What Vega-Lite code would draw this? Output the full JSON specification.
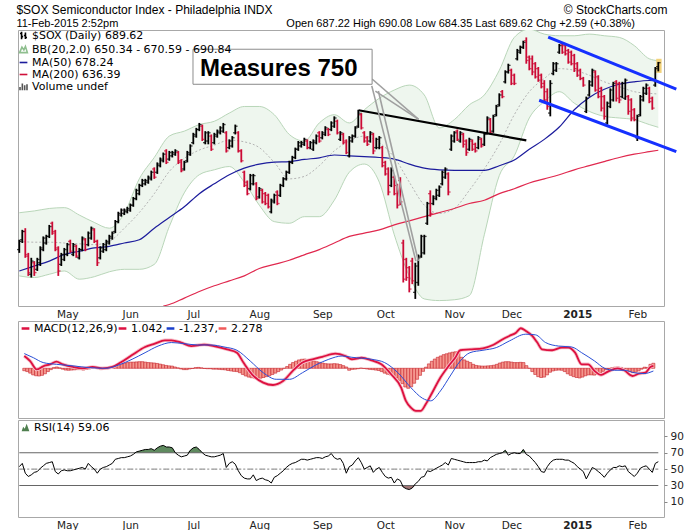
{
  "$schema": "https://vega.github.io/schema/vega-lite/v6.json",
  "background": "white",
  "padding": {"left": 16, "top": 3, "right": 0, "bottom": 0},
  "title": {
    "text": "$SOX Semiconductor Index - Philadelphia INDX\u2003\u2003\u2003\u2003\u2003\u2003\u2003\u2003\u2003\u2003\u2003\u2003\u2003\u2003\u2003\u2003\u2003\u2003\u2003\u2003\u2003\u2003\u2003\u2003\u00a0\u00a9 StockCharts.com",
    "subtitle": "11-Feb-2015 2:52pm\u2003\u2003\u2003\u2003\u2003\u2003\u2003\u2003\u2003\u2003\u2003\u2003\u2003\u2003\u2003\u00a0Open 687.22 High 690.08 Low 684.35 Last 689.62 Chg +2.59 (+0.38%)",
    "anchor": "start",
    "font": "Liberation Sans",
    "fontSize": 12,
    "fontWeight": "normal",
    "color": "#000000",
    "subtitleFont": "Liberation Sans",
    "subtitleFontSize": 11,
    "subtitleColor": "#000000",
    "subtitlePadding": 1,
    "offset": 0
  },
  "config": {
    "font": "DejaVu Sans",
    "view": {"stroke": "#a8a8a8", "strokeWidth": 1},
    "axis": {"labelFont": "DejaVu Sans", "labelFontSize": 10.5, "labelColor": "#222222", "tickColor": "#888888", "domain": false, "grid": false, "title": null},
    "legend": {"labelFont": "DejaVu Sans", "labelFontSize": 11, "labelLimit": 500}
  },
  "datasets": {
    "px": [
      {"i":0,"o":576,"h":582,"l":574,"c":581,"d":"up","m":-1.1,"r":53},
      {"i":1,"o":582,"h":588,"l":580,"c":587,"d":"up","m":-1.5,"r":57},
      {"i":2,"o":587,"h":589,"l":571,"c":573,"d":"dn","m":-2.2,"r":45},
      {"i":3,"o":572,"h":574,"l":560,"c":562,"d":"dn","m":-3.0,"r":41},
      {"i":4,"o":561,"h":571,"l":559,"c":569,"d":"up","m":-3.4,"r":43},
      {"i":5,"o":568,"h":569,"l":560,"c":562,"d":"dn","m":-3.5,"r":46},
      {"i":6,"o":564,"h":571,"l":563,"c":570,"d":"up","m":-3.2,"r":47},
      {"i":7,"o":568,"h":578,"l":566,"c":577,"d":"up","m":-2.5,"r":51},
      {"i":8,"o":576,"h":584,"l":575,"c":583,"d":"up","m":-1.5,"r":54},
      {"i":9,"o":580,"h":585,"l":579,"c":584,"d":"up","m":-0.6,"r":57},
      {"i":10,"o":584,"h":591,"l":583,"c":590,"d":"up","m":0.3,"r":58},
      {"i":11,"o":592,"h":593,"l":585,"c":586,"d":"dn","m":0.6,"r":59},
      {"i":12,"o":587,"h":588,"l":575,"c":576,"d":"dn","m":0.2,"r":47},
      {"i":13,"o":577,"h":578,"l":560,"c":563,"d":"dn","m":-0.4,"r":44},
      {"i":14,"o":567,"h":574,"l":566,"c":573,"d":"up","m":-0.8,"r":48},
      {"i":15,"o":570,"h":577,"l":569,"c":576,"d":"up","m":-0.9,"r":49},
      {"i":16,"o":573,"h":580,"l":572,"c":579,"d":"up","m":-0.8,"r":48},
      {"i":17,"o":581,"h":582,"l":574,"c":575,"d":"dn","m":-0.7,"r":48},
      {"i":18,"o":573,"h":580,"l":572,"c":579,"d":"up","m":-0.6,"r":49},
      {"i":19,"o":578,"h":579,"l":571,"c":572,"d":"dn","m":-0.6,"r":50},
      {"i":20,"o":571,"h":577,"l":570,"c":576,"d":"up","m":-0.8,"r":51},
      {"i":21,"o":576,"h":584,"l":575,"c":583,"d":"up","m":-0.5,"r":52},
      {"i":22,"o":582,"h":583,"l":575,"c":576,"d":"dn","m":-0.3,"r":50},
      {"i":23,"o":579,"h":587,"l":578,"c":586,"d":"up","m":0.1,"r":57},
      {"i":24,"o":583,"h":590,"l":582,"c":589,"d":"up","m":0.2,"r":53},
      {"i":25,"o":588,"h":589,"l":580,"c":581,"d":"dn","m":-0.2,"r":50},
      {"i":26,"o":581,"h":582,"l":566,"c":568,"d":"dn","m":-0.6,"r":45},
      {"i":27,"o":571,"h":578,"l":570,"c":577,"d":"up","m":-0.5,"r":50},
      {"i":28,"o":575,"h":580,"l":574,"c":579,"d":"up","m":-0.3,"r":52},
      {"i":29,"o":576,"h":582,"l":575,"c":581,"d":"up","m":0.0,"r":53},
      {"i":30,"o":580,"h":585,"l":579,"c":584,"d":"up","m":0.4,"r":55},
      {"i":31,"o":583,"h":587,"l":582,"c":586,"d":"up","m":0.9,"r":57},
      {"i":32,"o":587,"h":594,"l":586,"c":593,"d":"up","m":1.5,"r":62},
      {"i":33,"o":593,"h":599,"l":592,"c":598,"d":"up","m":2.0,"r":63},
      {"i":34,"o":597,"h":601,"l":596,"c":600,"d":"up","m":2.4,"r":64},
      {"i":35,"o":598,"h":601,"l":597,"c":600,"d":"up","m":2.6,"r":64},
      {"i":36,"o":599,"h":602,"l":598,"c":601,"d":"up","m":2.8,"r":65},
      {"i":37,"o":600,"h":604,"l":599,"c":603,"d":"up","m":2.8,"r":66},
      {"i":38,"o":603,"h":608,"l":602,"c":607,"d":"up","m":2.9,"r":68},
      {"i":39,"o":607,"h":613,"l":606,"c":612,"d":"up","m":3.0,"r":71},
      {"i":40,"o":610,"h":616,"l":609,"c":615,"d":"up","m":3.0,"r":72},
      {"i":41,"o":615,"h":619,"l":614,"c":618,"d":"up","m":2.8,"r":73},
      {"i":42,"o":616,"h":619,"l":615,"c":618,"d":"up","m":2.6,"r":74},
      {"i":43,"o":617,"h":621,"l":616,"c":620,"d":"up","m":2.5,"r":74},
      {"i":44,"o":619,"h":624,"l":618,"c":623,"d":"up","m":2.4,"r":75},
      {"i":45,"o":625,"h":626,"l":619,"c":620,"d":"dn","m":2.2,"r":73},
      {"i":46,"o":623,"h":629,"l":622,"c":628,"d":"up","m":1.9,"r":76},
      {"i":47,"o":627,"h":632,"l":626,"c":631,"d":"up","m":1.6,"r":78},
      {"i":48,"o":630,"h":635,"l":629,"c":634,"d":"up","m":1.3,"r":79},
      {"i":49,"o":636,"h":637,"l":628,"c":629,"d":"dn","m":1.1,"r":77},
      {"i":50,"o":631,"h":636,"l":630,"c":635,"d":"up","m":1.0,"r":77},
      {"i":51,"o":633,"h":636,"l":632,"c":635,"d":"up","m":0.6,"r":76},
      {"i":52,"o":634,"h":637,"l":633,"c":636,"d":"up","m":0.2,"r":70},
      {"i":53,"o":635,"h":636,"l":628,"c":629,"d":"dn","m":-0.3,"r":67},
      {"i":54,"o":630,"h":631,"l":623,"c":624,"d":"dn","m":-0.6,"r":65},
      {"i":55,"o":625,"h":630,"l":624,"c":629,"d":"up","m":-0.6,"r":66},
      {"i":56,"o":630,"h":636,"l":629,"c":635,"d":"up","m":-0.3,"r":67},
      {"i":57,"o":634,"h":640,"l":633,"c":639,"d":"up","m":-0.1,"r":73},
      {"i":58,"o":641,"h":647,"l":640,"c":646,"d":"up","m":0.3,"r":76},
      {"i":59,"o":645,"h":650,"l":644,"c":649,"d":"up","m":0.4,"r":77},
      {"i":60,"o":649,"h":653,"l":648,"c":652,"d":"up","m":0.2,"r":74},
      {"i":61,"o":651,"h":652,"l":642,"c":643,"d":"dn","m":-0.1,"r":70},
      {"i":62,"o":641,"h":648,"l":640,"c":647,"d":"up","m":-0.2,"r":67},
      {"i":63,"o":642,"h":648,"l":640,"c":647,"d":"up","m":-0.2,"r":66},
      {"i":64,"o":645,"h":646,"l":636,"c":637,"d":"dn","m":-0.4,"r":65},
      {"i":65,"o":641,"h":647,"l":640,"c":646,"d":"up","m":-0.4,"r":65},
      {"i":66,"o":645,"h":649,"l":644,"c":648,"d":"up","m":-0.5,"r":66},
      {"i":67,"o":647,"h":651,"l":646,"c":650,"d":"up","m":-0.6,"r":67},
      {"i":68,"o":648,"h":653,"l":647,"c":652,"d":"up","m":-0.7,"r":69},
      {"i":69,"o":647,"h":648,"l":635,"c":636,"d":"dn","m":-1.0,"r":52},
      {"i":70,"o":638,"h":643,"l":637,"c":642,"d":"up","m":-1.2,"r":57},
      {"i":71,"o":639,"h":645,"l":638,"c":644,"d":"up","m":-1.4,"r":59},
      {"i":72,"o":647,"h":652,"l":646,"c":651,"d":"up","m":-1.5,"r":56},
      {"i":73,"o":647,"h":648,"l":635,"c":636,"d":"dn","m":-2.0,"r":48},
      {"i":74,"o":636,"h":637,"l":629,"c":630,"d":"dn","m":-2.8,"r":42},
      {"i":75,"o":623,"h":624,"l":614,"c":615,"d":"dn","m":-3.5,"r":39},
      {"i":76,"o":617,"h":618,"l":609,"c":610,"d":"dn","m":-4.0,"r":38},
      {"i":77,"o":613,"h":622,"l":612,"c":621,"d":"up","m":-4.3,"r":38},
      {"i":78,"o":616,"h":622,"l":615,"c":621,"d":"up","m":-4.5,"r":43},
      {"i":79,"o":616,"h":617,"l":606,"c":607,"d":"dn","m":-4.6,"r":36},
      {"i":80,"o":608,"h":614,"l":607,"c":613,"d":"up","m":-4.5,"r":38},
      {"i":81,"o":612,"h":613,"l":604,"c":605,"d":"dn","m":-4.2,"r":39},
      {"i":82,"o":610,"h":611,"l":603,"c":604,"d":"dn","m":-3.8,"r":37},
      {"i":83,"o":609,"h":610,"l":601,"c":602,"d":"dn","m":-3.4,"r":36},
      {"i":84,"o":599,"h":607,"l":598,"c":606,"d":"up","m":-2.8,"r":33},
      {"i":85,"o":605,"h":610,"l":604,"c":609,"d":"up","m":-2.2,"r":40},
      {"i":86,"o":611,"h":612,"l":603,"c":604,"d":"dn","m":-1.5,"r":42},
      {"i":87,"o":609,"h":616,"l":608,"c":615,"d":"up","m":-0.8,"r":45},
      {"i":88,"o":615,"h":620,"l":614,"c":619,"d":"up","m":0.0,"r":48},
      {"i":89,"o":619,"h":624,"l":618,"c":623,"d":"up","m":0.8,"r":52},
      {"i":90,"o":623,"h":630,"l":622,"c":629,"d":"up","m":1.8,"r":55},
      {"i":91,"o":629,"h":633,"l":628,"c":632,"d":"up","m":2.6,"r":57},
      {"i":92,"o":632,"h":638,"l":631,"c":637,"d":"up","m":3.2,"r":58},
      {"i":93,"o":637,"h":642,"l":636,"c":641,"d":"up","m":3.8,"r":60},
      {"i":94,"o":639,"h":642,"l":638,"c":641,"d":"up","m":4.1,"r":62},
      {"i":95,"o":640,"h":644,"l":639,"c":643,"d":"up","m":4.2,"r":62},
      {"i":96,"o":642,"h":643,"l":637,"c":638,"d":"dn","m":4.0,"r":61},
      {"i":97,"o":638,"h":642,"l":637,"c":641,"d":"up","m":3.6,"r":62},
      {"i":98,"o":637,"h":643,"l":636,"c":642,"d":"up","m":3.3,"r":63},
      {"i":99,"o":641,"h":646,"l":640,"c":645,"d":"up","m":3.0,"r":64},
      {"i":100,"o":647,"h":648,"l":641,"c":642,"d":"dn","m":2.7,"r":64},
      {"i":101,"o":644,"h":648,"l":643,"c":647,"d":"up","m":2.4,"r":63},
      {"i":102,"o":646,"h":651,"l":645,"c":650,"d":"up","m":2.1,"r":65},
      {"i":103,"o":649,"h":650,"l":645,"c":646,"d":"dn","m":2.0,"r":66},
      {"i":104,"o":649,"h":654,"l":648,"c":653,"d":"up","m":2.0,"r":69},
      {"i":105,"o":651,"h":657,"l":650,"c":656,"d":"up","m":2.1,"r":64},
      {"i":106,"o":654,"h":655,"l":646,"c":647,"d":"dn","m":2.0,"r":62},
      {"i":107,"o":643,"h":648,"l":642,"c":647,"d":"up","m":1.7,"r":63},
      {"i":108,"o":646,"h":647,"l":640,"c":641,"d":"dn","m":1.2,"r":57},
      {"i":109,"o":642,"h":643,"l":634,"c":635,"d":"dn","m":0.6,"r":45},
      {"i":110,"o":633,"h":645,"l":632,"c":644,"d":"up","m":-0.9,"r":53},
      {"i":111,"o":642,"h":646,"l":641,"c":645,"d":"up","m":-0.5,"r":55},
      {"i":112,"o":645,"h":651,"l":644,"c":650,"d":"up","m":-0.4,"r":60},
      {"i":113,"o":651,"h":661,"l":650,"c":659,"d":"up","m":-0.2,"r":64},
      {"i":114,"o":658,"h":659,"l":649,"c":650,"d":"dn","m":0.1,"r":58},
      {"i":115,"o":647,"h":648,"l":641,"c":642,"d":"dn","m":-0.1,"r":50},
      {"i":116,"o":644,"h":645,"l":639,"c":640,"d":"dn","m":-0.3,"r":52},
      {"i":117,"o":642,"h":648,"l":641,"c":647,"d":"up","m":-0.5,"r":54},
      {"i":118,"o":646,"h":647,"l":634,"c":636,"d":"dn","m":-0.6,"r":46},
      {"i":119,"o":638,"h":644,"l":637,"c":643,"d":"up","m":-0.8,"r":50},
      {"i":120,"o":638,"h":645,"l":637,"c":644,"d":"up","m":-1.0,"r":52},
      {"i":121,"o":638,"h":639,"l":626,"c":627,"d":"dn","m":-1.5,"r":46},
      {"i":122,"o":629,"h":630,"l":621,"c":622,"d":"dn","m":-2.2,"r":41},
      {"i":123,"o":625,"h":626,"l":609,"c":611,"d":"dn","m":-2.7,"r":39},
      {"i":124,"o":615,"h":626,"l":614,"c":624,"d":"up","m":-3.0,"r":40},
      {"i":125,"o":620,"h":621,"l":609,"c":610,"d":"dn","m":-3.5,"r":33},
      {"i":126,"o":615,"h":616,"l":601,"c":603,"d":"dn","m":-4.2,"r":38},
      {"i":127,"o":618,"h":620,"l":603,"c":605,"d":"dn","m":-5.5,"r":36},
      {"i":128,"o":580,"h":582,"l":556,"c":558,"d":"dn","m":-7.0,"r":28},
      {"i":129,"o":570,"h":571,"l":557,"c":559,"d":"dn","m":-8.5,"r":26},
      {"i":130,"o":565,"h":566,"l":550,"c":552,"d":"dn","m":-9.1,"r":25},
      {"i":131,"o":569,"h":571,"l":555,"c":557,"d":"dn","m":-8.4,"r":27},
      {"i":132,"o":550,"h":568,"l":546,"c":566,"d":"up","m":-6.8,"r":32},
      {"i":133,"o":556,"h":573,"l":554,"c":571,"d":"up","m":-5.0,"r":35},
      {"i":134,"o":572,"h":585,"l":571,"c":584,"d":"up","m":-3.2,"r":40},
      {"i":135,"o":574,"h":585,"l":573,"c":584,"d":"up","m":-1.4,"r":41},
      {"i":136,"o":592,"h":605,"l":591,"c":604,"d":"up","m":0.5,"r":48},
      {"i":137,"o":610,"h":612,"l":596,"c":598,"d":"dn","m":2.0,"r":47},
      {"i":138,"o":604,"h":609,"l":603,"c":608,"d":"up","m":3.2,"r":49},
      {"i":139,"o":607,"h":613,"l":606,"c":612,"d":"up","m":4.2,"r":51},
      {"i":140,"o":609,"h":615,"l":608,"c":614,"d":"up","m":5.0,"r":53},
      {"i":141,"o":616,"h":624,"l":615,"c":623,"d":"up","m":5.6,"r":55},
      {"i":142,"o":620,"h":626,"l":619,"c":625,"d":"up","m":6.2,"r":58},
      {"i":143,"o":622,"h":623,"l":609,"c":611,"d":"dn","m":6.6,"r":55},
      {"i":144,"o":637,"h":646,"l":636,"c":645,"d":"up","m":7.0,"r":63},
      {"i":145,"o":642,"h":648,"l":641,"c":647,"d":"up","m":7.3,"r":62},
      {"i":146,"o":648,"h":649,"l":642,"c":643,"d":"dn","m":7.5,"r":61},
      {"i":147,"o":642,"h":648,"l":641,"c":647,"d":"up","m":7.6,"r":60},
      {"i":148,"o":646,"h":647,"l":638,"c":640,"d":"dn","m":5.0,"r":59},
      {"i":149,"o":642,"h":643,"l":633,"c":635,"d":"dn","m":3.8,"r":58},
      {"i":150,"o":637,"h":644,"l":636,"c":643,"d":"up","m":3.2,"r":58},
      {"i":151,"o":642,"h":643,"l":636,"c":637,"d":"dn","m":2.6,"r":58},
      {"i":152,"o":640,"h":641,"l":635,"c":636,"d":"dn","m":1.8,"r":58},
      {"i":153,"o":638,"h":645,"l":637,"c":644,"d":"up","m":1.3,"r":59},
      {"i":154,"o":643,"h":644,"l":638,"c":639,"d":"dn","m":1.1,"r":59},
      {"i":155,"o":640,"h":647,"l":639,"c":646,"d":"up","m":1.0,"r":61},
      {"i":156,"o":647,"h":657,"l":646,"c":656,"d":"up","m":1.0,"r":60},
      {"i":157,"o":655,"h":656,"l":646,"c":647,"d":"dn","m":1.1,"r":64},
      {"i":158,"o":648,"h":658,"l":647,"c":657,"d":"up","m":1.2,"r":66},
      {"i":159,"o":658,"h":664,"l":657,"c":663,"d":"up","m":1.4,"r":68},
      {"i":160,"o":664,"h":671,"l":663,"c":670,"d":"up","m":1.8,"r":69},
      {"i":161,"o":672,"h":673,"l":668,"c":669,"d":"dn","m":2.4,"r":70},
      {"i":162,"o":678,"h":685,"l":677,"c":684,"d":"up","m":2.8,"r":73},
      {"i":163,"o":684,"h":689,"l":683,"c":688,"d":"up","m":3.0,"r":67},
      {"i":164,"o":685,"h":686,"l":676,"c":677,"d":"dn","m":3.0,"r":69},
      {"i":165,"o":682,"h":683,"l":676,"c":677,"d":"dn","m":2.8,"r":70},
      {"i":166,"o":692,"h":698,"l":691,"c":697,"d":"up","m":2.6,"r":69},
      {"i":167,"o":696,"h":700,"l":695,"c":699,"d":"up","m":2.6,"r":69},
      {"i":168,"o":699,"h":703,"l":698,"c":702,"d":"up","m":2.7,"r":74},
      {"i":169,"o":703,"h":705,"l":689,"c":691,"d":"dn","m":2.6,"r":68},
      {"i":170,"o":693,"h":694,"l":685,"c":686,"d":"dn","m":1.2,"r":66},
      {"i":171,"o":692,"h":694,"l":682,"c":684,"d":"dn","m":0.0,"r":62},
      {"i":172,"o":689,"h":690,"l":680,"c":681,"d":"dn","m":-1.5,"r":58},
      {"i":173,"o":686,"h":687,"l":678,"c":679,"d":"dn","m":-2.8,"r":53},
      {"i":174,"o":682,"h":683,"l":674,"c":675,"d":"dn","m":-3.8,"r":47},
      {"i":175,"o":677,"h":679,"l":665,"c":667,"d":"dn","m":-4.2,"r":46},
      {"i":176,"o":672,"h":674,"l":661,"c":663,"d":"dn","m":-4.0,"r":53},
      {"i":177,"o":659,"h":679,"l":657,"c":677,"d":"up","m":-3.0,"r":58},
      {"i":178,"o":683,"h":690,"l":682,"c":689,"d":"up","m":-1.8,"r":61},
      {"i":179,"o":685,"h":690,"l":684,"c":689,"d":"up","m":-1.2,"r":62},
      {"i":180,"o":696,"h":701,"l":695,"c":700,"d":"up","m":-0.9,"r":62},
      {"i":181,"o":701,"h":702,"l":695,"c":696,"d":"dn","m":-0.8,"r":62},
      {"i":182,"o":700,"h":701,"l":694,"c":695,"d":"dn","m":-0.9,"r":61},
      {"i":183,"o":697,"h":698,"l":689,"c":690,"d":"dn","m":-1.5,"r":61},
      {"i":184,"o":696,"h":697,"l":688,"c":689,"d":"dn","m":-2.5,"r":59},
      {"i":185,"o":694,"h":695,"l":684,"c":686,"d":"dn","m":-3.2,"r":57},
      {"i":186,"o":689,"h":690,"l":681,"c":682,"d":"dn","m":-3.8,"r":53},
      {"i":187,"o":685,"h":686,"l":679,"c":680,"d":"dn","m":-4.2,"r":50},
      {"i":188,"o":680,"h":681,"l":675,"c":676,"d":"dn","m":-4.4,"r":47},
      {"i":189,"o":660,"h":669,"l":659,"c":668,"d":"up","m":-4.0,"r":38},
      {"i":190,"o":670,"h":679,"l":669,"c":678,"d":"up","m":-3.4,"r":45},
      {"i":191,"o":676,"h":686,"l":675,"c":685,"d":"up","m":-3.0,"r":52},
      {"i":192,"o":684,"h":685,"l":672,"c":673,"d":"dn","m":-3.0,"r":50},
      {"i":193,"o":681,"h":682,"l":668,"c":669,"d":"dn","m":-3.1,"r":47},
      {"i":194,"o":674,"h":675,"l":660,"c":662,"d":"dn","m":-2.8,"r":44},
      {"i":195,"o":669,"h":670,"l":655,"c":657,"d":"dn","m":-2.2,"r":40},
      {"i":196,"o":653,"h":666,"l":652,"c":665,"d":"up","m":-1.4,"r":45},
      {"i":197,"o":663,"h":674,"l":662,"c":673,"d":"up","m":-0.6,"r":49},
      {"i":198,"o":667,"h":678,"l":666,"c":677,"d":"up","m":-0.1,"r":52},
      {"i":199,"o":678,"h":679,"l":666,"c":668,"d":"dn","m":0.2,"r":52},
      {"i":200,"o":677,"h":678,"l":665,"c":667,"d":"dn","m":0.5,"r":54},
      {"i":201,"o":669,"h":678,"l":668,"c":677,"d":"up","m":0.6,"r":53},
      {"i":202,"o":668,"h":680,"l":667,"c":679,"d":"up","m":0.4,"r":54},
      {"i":203,"o":669,"h":670,"l":658,"c":660,"d":"dn","m":-0.3,"r":47},
      {"i":204,"o":667,"h":668,"l":654,"c":656,"d":"dn","m":-1.0,"r":44},
      {"i":205,"o":661,"h":662,"l":654,"c":655,"d":"dn","m":-1.5,"r":41},
      {"i":206,"o":644,"h":658,"l":642,"c":657,"d":"up","m":-2.0,"r":45},
      {"i":207,"o":658,"h":670,"l":657,"c":669,"d":"up","m":-1.8,"r":51},
      {"i":208,"o":667,"h":675,"l":666,"c":674,"d":"up","m":-1.2,"r":53},
      {"i":209,"o":671,"h":677,"l":670,"c":676,"d":"up","m":-0.4,"r":54},
      {"i":210,"o":674,"h":675,"l":665,"c":666,"d":"dn","m":0.5,"r":50},
      {"i":211,"o":668,"h":669,"l":661,"c":662,"d":"dn","m":0.4,"r":46},
      {"i":212,"o":676,"h":687,"l":675,"c":686,"d":"up","m":1.8,"r":57},
      {"i":213,"o":687.22,"h":690.08,"l":684.35,"c":689.62,"d":"up","m":2.278,"r":59.06}
    ],
    "ind": [
      {"i":0,"bu":598.4,"bl":560,"bm":581,"m50":563},
      {"i":5,"bu":599.5,"bl":559,"bm":580.5,"m50":566},
      {"i":10,"bu":601,"bl":561,"bm":580.5,"m50":569},
      {"i":15,"bu":601.5,"bl":563,"bm":580,"m50":573},
      {"i":20,"bu":597,"bl":558,"bm":579.5,"m50":575},
      {"i":25,"bu":592.5,"bl":559.5,"bm":579,"m50":577},
      {"i":30,"bu":589,"bl":562.5,"bm":581,"m50":578},
      {"i":35,"bu":598,"bl":564,"bm":589,"m50":580},
      {"i":40,"bu":619,"bl":564,"bm":598.5,"m50":582},
      {"i":45,"bu":632,"bl":567,"bm":610,"m50":589},
      {"i":50,"bu":645,"bl":590,"bm":623.5,"m50":595.5},
      {"i":55,"bu":648,"bl":610.5,"bm":631.5,"m50":602},
      {"i":60,"bu":652,"bl":621.5,"bm":636.5,"m50":610},
      {"i":65,"bu":654,"bl":624.5,"bm":639.5,"m50":616},
      {"i":70,"bu":659,"bl":626.5,"bm":642.5,"m50":621.5},
      {"i":75,"bu":663,"bl":617,"bm":641.5,"m50":625.5},
      {"i":80,"bu":663,"bl":603,"bm":638,"m50":628},
      {"i":85,"bu":658,"bl":593,"bm":629,"m50":629.2},
      {"i":90,"bu":646,"bl":592,"bm":619,"m50":629.5},
      {"i":95,"bu":642,"bl":596,"bm":620.5,"m50":630.8},
      {"i":100,"bu":653,"bl":596,"bm":627,"m50":631.8},
      {"i":105,"bu":658,"bl":606,"bm":636,"m50":633.5},
      {"i":110,"bu":653,"bl":623,"bm":642,"m50":633},
      {"i":115,"bu":661,"bl":628,"bm":645,"m50":632.5},
      {"i":120,"bu":668,"bl":617,"bm":641,"m50":632},
      {"i":125,"bu":673,"bl":585,"bm":632,"m50":631},
      {"i":130,"bu":676,"bl":560,"bm":617,"m50":628},
      {"i":135,"bu":670,"bl":546,"bm":603,"m50":625.5},
      {"i":140,"bu":650,"bl":545,"bm":598,"m50":624.5},
      {"i":145,"bu":655,"bl":545.5,"bm":601,"m50":624.2},
      {"i":150,"bu":664,"bl":548,"bm":612,"m50":624.2},
      {"i":155,"bu":670,"bl":585,"bm":625,"m50":624.2},
      {"i":160,"bu":685,"bl":621,"bm":640,"m50":627},
      {"i":165,"bu":705,"bl":633,"bm":658,"m50":630.5},
      {"i":170,"bu":710,"bl":656,"bm":672,"m50":637},
      {"i":175,"bu":707,"bl":666,"bm":680,"m50":643},
      {"i":180,"bu":706,"bl":672,"bm":686,"m50":650.5},
      {"i":185,"bu":706,"bl":665,"bm":685,"m50":661},
      {"i":190,"bu":707,"bl":660,"bm":682,"m50":668.5},
      {"i":195,"bu":706,"bl":657,"bm":678,"m50":673.5},
      {"i":200,"bu":705,"bl":656,"bm":675,"m50":676.5},
      {"i":205,"bu":700,"bl":655,"bm":672,"m50":678},
      {"i":210,"bu":692,"bl":652,"bm":671,"m50":678.8},
      {"i":213,"bu":690.84,"bl":650.34,"bm":670.59,"m50":678.24}
    ],
    "ma200": [
      {"i":48,"v":541.7},{"i":50,"v":542.6},{"i":55,"v":546.5},{"i":60,"v":550.5},{"i":65,"v":554},
      {"i":70,"v":557},{"i":75,"v":560},{"i":80,"v":564.5},{"i":85,"v":567},{"i":90,"v":569.5},
      {"i":95,"v":572.8},{"i":100,"v":576},{"i":105,"v":580},{"i":110,"v":584},{"i":115,"v":586},
      {"i":120,"v":588},{"i":125,"v":591},{"i":130,"v":593.5},{"i":135,"v":596},{"i":140,"v":598.5},
      {"i":145,"v":601},{"i":150,"v":604},{"i":155,"v":606},{"i":160,"v":610},{"i":165,"v":613},
      {"i":170,"v":616.5},{"i":175,"v":619},{"i":180,"v":621.5},{"i":185,"v":624.5},{"i":190,"v":627},
      {"i":195,"v":629.5},{"i":200,"v":632},{"i":205,"v":634},{"i":210,"v":635.5},{"i":213,"v":636.39}
    ],
    "ml": [
      {"i":0,"v":5.6},{"i":2,"v":3.3},{"i":4.2,"v":-0.5},{"i":6.4,"v":0.9},{"i":8.7,"v":1.8},{"i":10.9,"v":3.0},
      {"i":13.1,"v":1.8},{"i":16.5,"v":0.6},{"i":19.8,"v":0},{"i":23.1,"v":0.6},{"i":26.5,"v":0},{"i":29.8,"v":0.6},
      {"i":32.6,"v":2.6},{"i":36.5,"v":6.0},{"i":40.9,"v":9.7},{"i":44.2,"v":11.2},{"i":47.6,"v":12.7},{"i":49.8,"v":12.7},
      {"i":53.1,"v":11.7},{"i":56.5,"v":10.1},{"i":60.9,"v":10.8},{"i":64.2,"v":10.1},{"i":68.7,"v":8.6},{"i":72,"v":7.1},
      {"i":74.2,"v":2.6},{"i":77.6,"v":-3.5},{"i":80.9,"v":-6.5},{"i":84.2,"v":-7.6},{"i":87.6,"v":-5.8},{"i":90.9,"v":-1.2},
      {"i":94.2,"v":2.6},{"i":97.6,"v":4.1},{"i":100.9,"v":5.2},{"i":105.3,"v":6.7},{"i":108.7,"v":5.6},{"i":110.9,"v":4.1},
      {"i":114.2,"v":4.8},{"i":117.6,"v":3.6},{"i":120.9,"v":1.8},{"i":124.2,"v":-2.7},{"i":127.6,"v":-8.8},{"i":129.2,"v":-14.8},
      {"i":130.9,"v":-17.9},{"i":132.6,"v":-19.4},{"i":134.2,"v":-19.4},{"i":135.9,"v":-16.4},{"i":138.1,"v":-11.1},{"i":140.9,"v":-4.2},
      {"i":143.7,"v":1.1},{"i":145.9,"v":4.8},{"i":147.6,"v":8.2},{"i":150.9,"v":8.6},{"i":155.3,"v":9.1},{"i":158.7,"v":10.6},
      {"i":162,"v":13.2},{"i":164.2,"v":14.7},{"i":166.5,"v":16.2},{"i":168.1,"v":18.2},{"i":169.8,"v":17.0},{"i":172,"v":14.7},
      {"i":173.7,"v":11.7},{"i":175.3,"v":8.6},{"i":178.7,"v":8.2},{"i":182,"v":9.4},{"i":184.2,"v":9.4},{"i":186.5,"v":7.1},
      {"i":188.7,"v":1.8},{"i":190.9,"v":1.8},{"i":193.1,"v":-1.2},{"i":195.3,"v":-3.0},{"i":197.6,"v":-1.5},{"i":200.9,"v":0},
      {"i":203.1,"v":-0.9},{"i":205.9,"v":-3.5},{"i":208.1,"v":-2.4},{"i":210.3,"v":-2.0},{"i":212,"v":0.6},{"i":213,"v":1.042}
    ],
    "sl": [
      {"i":0,"v":6.7},{"i":3.1,"v":4.8},{"i":6.4,"v":2.6},{"i":10.9,"v":1.8},{"i":16.5,"v":1.1},{"i":22,"v":0.3},
      {"i":27.6,"v":0},{"i":32,"v":1.5},{"i":36.5,"v":4.1},{"i":40.9,"v":7.1},{"i":45.3,"v":10.1},{"i":49.8,"v":11.7},
      {"i":54.2,"v":11.2},{"i":58.7,"v":10.6},{"i":63.1,"v":10.6},{"i":67.6,"v":9.7},{"i":72,"v":8.2},{"i":76.5,"v":3.3},
      {"i":80.9,"v":-2.0},{"i":85.3,"v":-5.0},{"i":89.8,"v":-5.0},{"i":94.2,"v":-2.0},{"i":98.7,"v":1.5},{"i":103.1,"v":4.1},
      {"i":107.6,"v":5.6},{"i":110.9,"v":5.0},{"i":117.6,"v":4.1},{"i":122,"v":2.6},{"i":126.5,"v":-2.0},{"i":130.9,"v":-8.8},
      {"i":134.8,"v":-13.6},{"i":137.6,"v":-14.8},{"i":140.9,"v":-10.3},{"i":144.2,"v":-3.5},{"i":147.6,"v":3.3},{"i":150.9,"v":7.1},
      {"i":155.3,"v":8.2},{"i":159.8,"v":9.4},{"i":164.2,"v":12.4},{"i":169.8,"v":15.5},{"i":173.1,"v":15.2},{"i":176.5,"v":11.7},
      {"i":180.9,"v":10.1},{"i":185.3,"v":9.7},{"i":188.7,"v":7.1},{"i":193.1,"v":3.3},{"i":196.5,"v":0},{"i":199.8,"v":-0.9},
      {"i":203.1,"v":-0.9},{"i":206.5,"v":-2.0},{"i":209.8,"v":-2.4},{"i":213,"v":-1.237}
    ]
  },
  "spacing": 0,
  "resolve": {
    "scale": {"color": "independent", "shape": "independent"},
    "legend": {"color": "independent", "shape": "independent"}
  },
  "vconcat": [
    {
      "width": 646,
      "height": 276,
      "resolve": {"scale": {"color": "independent", "shape": "independent"}},
      "encoding": {
        "x": {
          "field": "i", "type": "quantitative",
          "scale": {"domain": [-0.43, 214.9], "nice": false, "zero": false},
          "axis": {
            "values": [16, 37, 58, 80, 101, 122, 145, 164, 186, 206],
            "labelExpr": "datum.value == 16 ? 'May' : datum.value == 37 ? 'Jun' : datum.value == 58 ? 'Jul' : datum.value == 80 ? 'Aug' : datum.value == 101 ? 'Sep' : datum.value == 122 ? 'Oct' : datum.value == 145 ? 'Nov' : datum.value == 164 ? 'Dec' : datum.value == 186 ? '2015' : 'Feb'",
            "labelFontWeight": {"condition": {"test": "datum.value == 186", "value": "bold"}, "value": "normal"},
            "ticks": false, "labelPadding": 3, "title": null, "labelOverlap": false
          }
        }
      },
      "layer": [
        {
          "data": {"name": "ind"},
          "mark": {"type": "area", "interpolate": "monotone", "fill": "#eef6ee", "clip": true},
          "encoding": {
            "y": {"field": "bu", "type": "quantitative", "scale": {"domain": [541.7, 709.5], "nice": false, "zero": false}, "axis": null},
            "y2": {"field": "bl"}
          }
        },
        {
          "data": {"name": "ind"},
          "mark": {"type": "line", "interpolate": "monotone", "stroke": "#b9d6b9", "strokeWidth": 1, "clip": true},
          "encoding": {"y": {"field": "bu", "type": "quantitative", "scale": {"domain": [541.7, 709.5], "nice": false, "zero": false}, "axis": null}}
        },
        {
          "data": {"name": "ind"},
          "mark": {"type": "line", "interpolate": "monotone", "stroke": "#b9d6b9", "strokeWidth": 1, "clip": true},
          "encoding": {"y": {"field": "bl", "type": "quantitative", "scale": {"domain": [541.7, 709.5], "nice": false, "zero": false}, "axis": null}}
        },
        {
          "data": {"name": "ind"},
          "mark": {"type": "line", "interpolate": "monotone", "stroke": "#b4b4b4", "strokeWidth": 1, "strokeDash": [2, 2], "clip": true},
          "encoding": {"y": {"field": "bm", "type": "quantitative", "scale": {"domain": [541.7, 709.5], "nice": false, "zero": false}, "axis": null}}
        },
        {
          "data": {"name": "ma200"},
          "mark": {"type": "line", "interpolate": "monotone", "stroke": "#e0284e", "strokeWidth": 1.2, "clip": true},
          "encoding": {"y": {"field": "v", "type": "quantitative", "scale": {"domain": [541.7, 709.5], "nice": false, "zero": false}, "axis": null}}
        },
        {
          "data": {"name": "ind"},
          "mark": {"type": "line", "interpolate": "monotone", "stroke": "#1c1c9c", "strokeWidth": 1.2, "clip": true},
          "encoding": {"y": {"field": "m50", "type": "quantitative", "scale": {"domain": [541.7, 709.5], "nice": false, "zero": false}, "axis": null}}
        },
        {
          "data": {"values": [{"i": 212.3, "x2": 214.1, "y1": 683.4, "y2": 692}]},
          "mark": {"type": "rect", "fill": "#f2d27a"},
          "encoding": {
            "x2": {"field": "x2"},
            "y": {"field": "y1", "type": "quantitative", "scale": {"domain": [541.7, 709.5], "nice": false, "zero": false}, "axis": null},
            "y2": {"field": "y2"}
          }
        },
        {
          "data": {"name": "px"},
          "mark": {"type": "rule", "strokeWidth": 1.8},
          "encoding": {
            "y": {
              "field": "l", "type": "quantitative",
              "scale": {"domain": [541.7, 709.5], "nice": false, "zero": false},
              "axis": {"orient": "right", "values": [550, 560, 570, 580, 590, 600, 610, 620, 630, 640, 650, 660, 670, 680, 690, 700], "tickSize": 3, "labelPadding": 3, "title": null}
            },
            "y2": {"field": "h"},
            "color": {"field": "d", "type": "nominal", "scale": {"domain": ["up", "dn"], "range": ["#000000", "#cc0a35"]}, "legend": null}
          }
        },
        {
          "data": {"name": "px"},
          "mark": {"type": "tick", "orient": "horizontal", "size": 2, "thickness": 1.3, "xOffset": -1.3},
          "encoding": {
            "y": {"field": "o", "type": "quantitative", "scale": {"domain": [541.7, 709.5], "nice": false, "zero": false}, "axis": null},
            "color": {"field": "d", "type": "nominal", "scale": {"domain": ["up", "dn"], "range": ["#000000", "#cc0a35"]}, "legend": null}
          }
        },
        {
          "data": {"name": "px"},
          "mark": {"type": "tick", "orient": "horizontal", "size": 2, "thickness": 1.3, "xOffset": 1.3},
          "encoding": {
            "y": {"field": "c", "type": "quantitative", "scale": {"domain": [541.7, 709.5], "nice": false, "zero": false}, "axis": null},
            "color": {"field": "d", "type": "nominal", "scale": {"domain": ["up", "dn"], "range": ["#000000", "#cc0a35"]}, "legend": null}
          }
        },
        {
          "data": {"values": [{"i": 113.1, "y1": 660.7, "x2": 169, "y2": 642.4}]},
          "mark": {"type": "rule", "stroke": "#000000", "strokeWidth": 2.2},
          "encoding": {
            "x2": {"field": "x2"},
            "y": {"field": "y1", "type": "quantitative", "scale": {"domain": [541.7, 709.5], "nice": false, "zero": false}, "axis": null},
            "y2": {"field": "y2"}
          }
        },
        {
          "data": {"values": [{"i": 176.3, "y1": 705.2, "x2": 219, "y2": 673.5}, {"i": 173.3, "y1": 666.8, "x2": 219, "y2": 635.5}]},
          "mark": {"type": "rule", "stroke": "#1530ff", "strokeWidth": 3, "clip": false},
          "encoding": {
            "x2": {"field": "x2"},
            "y": {"field": "y1", "type": "quantitative", "scale": {"domain": [541.7, 709.5], "nice": false, "zero": false}, "axis": null},
            "y2": {"field": "y2"}
          }
        },
        {
          "data": {"values": [
            {"i": 117.6, "y1": 679.7, "x2": 133.1, "y2": 655.2},
            {"i": 118.7, "y1": 672.3, "x2": 133.1, "y2": 655.2},
            {"i": 117.5, "y1": 675.5, "x2": 132.2, "y2": 569},
            {"i": 119.7, "y1": 672.4, "x2": 133, "y2": 569}
          ]},
          "mark": {"type": "rule", "stroke": "#a0a0a0", "strokeWidth": 1.6},
          "encoding": {
            "x2": {"field": "x2"},
            "y": {"field": "y1", "type": "quantitative", "scale": {"domain": [541.7, 709.5], "nice": false, "zero": false}, "axis": null},
            "y2": {"field": "y2"}
          }
        },
        {
          "data": {"values": [{"i": 57.9, "x2": 117.6, "y1": 697.8, "y2": 676.5}]},
          "mark": {"type": "rect", "fill": "#b4b4b4", "xOffset": 3, "yOffset": 3},
          "encoding": {
            "x2": {"field": "x2"},
            "y": {"field": "y1", "type": "quantitative", "scale": {"domain": [541.7, 709.5], "nice": false, "zero": false}, "axis": null},
            "y2": {"field": "y2"}
          }
        },
        {
          "data": {"values": [{"i": 57.9, "x2": 117.6, "y1": 697.8, "y2": 676.5}]},
          "mark": {"type": "rect", "fill": "#ffffff", "stroke": "#8c8c8c", "strokeWidth": 1},
          "encoding": {
            "x2": {"field": "x2"},
            "y": {"field": "y1", "type": "quantitative", "scale": {"domain": [541.7, 709.5], "nice": false, "zero": false}, "axis": null},
            "y2": {"field": "y2"}
          }
        },
        {
          "data": {"values": [{"i": 86.5, "p": 681.6, "t": "Measures 750"}]},
          "mark": {"type": "text", "font": "Liberation Sans", "fontSize": 24, "fontWeight": "bold", "align": "center", "baseline": "alphabetic", "color": "#000000"},
          "encoding": {
            "y": {"field": "p", "type": "quantitative", "scale": {"domain": [541.7, 709.5], "nice": false, "zero": false}, "axis": null},
            "text": {"field": "t"}
          }
        },
        {
          "data": {"values": [{"k": "$SOX (Daily) 689.62"}, {"k": "BB(20,2.0) 650.34 - 670.59 - 690.84"}, {"k": "MA(50) 678.24"}, {"k": "MA(200) 636.39"}, {"k": "Volume undef"}]},
          "mark": {"type": "point", "opacity": 0, "filled": false},
          "encoding": {
            "color": {
              "field": "k", "type": "nominal",
              "scale": {"domain": ["$SOX (Daily) 689.62", "BB(20,2.0) 650.34 - 670.59 - 690.84", "MA(50) 678.24", "MA(200) 636.39", "Volume undef"], "range": ["#000000", "#8fbf8f", "#1c1c9c", "#d0103a", "#555555"]},
              "legend": {
                "orient": "top-left", "title": null, "offset": 0, "padding": 0, "rowPadding": 0, "symbolSize": 60, "symbolStrokeWidth": 1.6, "labelOffset": 3,
                "encode": {
                  "symbols": {"update": {"opacity": {"value": 1}}},
                  "labels": {"update": {"fill": {"signal": "indexof(datum.value, 'BB') == 0 ? '#1f7a1f' : indexof(datum.value, 'MA(50)') == 0 ? '#000099' : indexof(datum.value, 'MA(200)') == 0 ? '#cc0033' : indexof(datum.value, 'Volume') == 0 ? '#555555' : '#000000'"}}}
                }
              }
            },
            "shape": {
              "field": "k", "type": "nominal",
              "scale": {"domain": ["$SOX (Daily) 689.62", "BB(20,2.0) 650.34 - 670.59 - 690.84", "MA(50) 678.24", "MA(200) 636.39", "Volume undef"], "range": ["M-0.5,-1V1M-0.9,-0.5H-0.5M-0.5,0.3H-0.1M0.5,-0.8V0.9M0.1,0H0.5M0.5,0.5H0.9", "M-1,0.8L-0.4,-0.6L0.1,0.1L0.5,-0.8L1,0.8Z", "stroke", "stroke", "M-0.9,1V0.1M-0.3,1V-0.8M0.3,1V-0.3M0.9,1V-0.6"]},
              "legend": {
                "orient": "top-left", "title": null, "offset": 0, "padding": 0, "rowPadding": 0, "symbolSize": 60, "symbolStrokeWidth": 1.6, "labelOffset": 3,
                "encode": {
                  "symbols": {"update": {"opacity": {"value": 1}}},
                  "labels": {"update": {"fill": {"signal": "indexof(datum.value, 'BB') == 0 ? '#1f7a1f' : indexof(datum.value, 'MA(50)') == 0 ? '#000099' : indexof(datum.value, 'MA(200)') == 0 ? '#cc0033' : indexof(datum.value, 'Volume') == 0 ? '#555555' : '#000000'"}}}
                }
              }
            }
          }
        }
      ]
    },
    {
      "width": 646,
      "height": 97,
      "layer": [
        {
          "data": {"name": "px"},
          "mark": {"type": "bar", "width": 3, "fill": "#f4978e", "stroke": "#c8232c", "strokeWidth": 0.6},
          "encoding": {
            "x": {"field": "i", "type": "quantitative", "scale": {"domain": [-0.43, 214.9], "nice": false, "zero": false}, "axis": null},
            "y": {
              "field": "m", "type": "quantitative",
              "scale": {"domain": [-22.6, 21.5], "nice": false, "zero": false},
              "axis": {"orient": "right", "values": [-20, -10, 0, 10], "tickSize": 3, "labelPadding": 3, "title": null}
            },
            "y2": {"datum": 0}
          }
        },
        {
          "data": {"name": "ml"},
          "mark": {"type": "line", "interpolate": "monotone", "stroke": "#f7c0ca", "strokeWidth": 3.5},
          "encoding": {
            "x": {"field": "i", "type": "quantitative", "scale": {"domain": [-0.43, 214.9], "nice": false, "zero": false}, "axis": null},
            "y": {"field": "v", "type": "quantitative", "scale": {"domain": [-22.6, 21.5], "nice": false, "zero": false}, "axis": null}
          }
        },
        {
          "data": {"name": "ml"},
          "mark": {"type": "line", "interpolate": "monotone", "stroke": "#dd1040", "strokeWidth": 1.8},
          "encoding": {
            "x": {"field": "i", "type": "quantitative", "scale": {"domain": [-0.43, 214.9], "nice": false, "zero": false}, "axis": null},
            "y": {"field": "v", "type": "quantitative", "scale": {"domain": [-22.6, 21.5], "nice": false, "zero": false}, "axis": null}
          }
        },
        {
          "data": {"name": "sl"},
          "mark": {"type": "line", "interpolate": "monotone", "stroke": "#2a4fd6", "strokeWidth": 1},
          "encoding": {
            "x": {"field": "i", "type": "quantitative", "scale": {"domain": [-0.43, 214.9], "nice": false, "zero": false}, "axis": null},
            "y": {"field": "v", "type": "quantitative", "scale": {"domain": [-22.6, 21.5], "nice": false, "zero": false}, "axis": null}
          }
        },
        {
          "data": {"values": [{"k": "MACD(12,26,9)"}, {"k": "1.042,"}, {"k": "-1.237,"}, {"k": "2.278"}]},
          "mark": {"type": "point", "opacity": 0, "filled": false},
          "encoding": {
            "color": {
              "field": "k", "type": "nominal",
              "scale": {"domain": ["MACD(12,26,9)", "1.042,", "-1.237,", "2.278"], "range": ["#dd1040", "#dd1040", "#1a3fcc", "#f05a5a"]},
              "legend": {
                "orient": "top-left", "title": null, "offset": 2, "padding": 0, "direction": "horizontal", "columns": 4, "gridAlign": "none", "columnPadding": -5,
                "symbolType": "stroke", "symbolSize": 60, "symbolStrokeWidth": 2.5, "labelOffset": 3,
                "encode": {
                  "symbols": {"update": {"opacity": {"signal": "datum.value == 'MACD(12,26,9)' ? 1 : 0"}}},
                  "labels": {"update": {"fill": {"signal": "datum.value == '1.042,' ? '#d0103a' : datum.value == '-1.237,' ? '#1a3fcc' : datum.value == '2.278' ? '#f05a5a' : '#000000'"}}}
                }
              }
            }
          }
        }
      ]
    },
    {
      "width": 646,
      "height": 97,
      "data": {"name": "px"},
      "resolve": {"scale": {"y": "independent"}},
      "encoding": {
        "x": {
          "field": "i", "type": "quantitative",
          "scale": {"domain": [-0.43, 214.9], "nice": false, "zero": false},
          "axis": {
            "values": [16, 37, 58, 80, 101, 122, 145, 164, 186, 206],
            "labelExpr": "datum.value == 16 ? 'May' : datum.value == 37 ? 'Jun' : datum.value == 58 ? 'Jul' : datum.value == 80 ? 'Aug' : datum.value == 101 ? 'Sep' : datum.value == 122 ? 'Oct' : datum.value == 145 ? 'Nov' : datum.value == 164 ? 'Dec' : datum.value == 186 ? '2015' : 'Feb'",
            "labelFontWeight": {"condition": {"test": "datum.value == 186", "value": "bold"}, "value": "normal"},
            "ticks": false, "labelPadding": 3, "title": null, "labelOverlap": false
          }
        }
      },
      "layer": [
        {
          "mark": {"type": "area", "color": "#a07676"},
          "encoding": {
            "y": {"field": "r", "type": "quantitative", "scale": {"domain": [-8.5, 30], "range": [97, 65.49], "clamp": true, "nice": false, "zero": false}, "axis": null},
            "y2": {"datum": 30}
          }
        },
        {
          "mark": {"type": "area", "color": "#5f8a5f"},
          "encoding": {
            "y": {"field": "r", "type": "quantitative", "scale": {"domain": [70, 110], "range": [32.74, 0], "clamp": true, "nice": false, "zero": false}, "axis": null},
            "y2": {"datum": 70}
          }
        },
        {
          "mark": {"type": "line", "stroke": "#666666", "strokeWidth": 1.2},
          "encoding": {"y": {"datum": 70, "type": "quantitative", "scale": {"domain": [-8.5, 110], "nice": false, "zero": false}, "axis": null}}
        },
        {
          "mark": {"type": "line", "stroke": "#666666", "strokeWidth": 1.2},
          "encoding": {"y": {"datum": 30, "type": "quantitative", "scale": {"domain": [-8.5, 110], "nice": false, "zero": false}, "axis": null}}
        },
        {
          "mark": {"type": "line", "stroke": "#777777", "strokeWidth": 1, "strokeDash": [6, 2, 2, 2]},
          "encoding": {"y": {"datum": 50, "type": "quantitative", "scale": {"domain": [-8.5, 110], "nice": false, "zero": false}, "axis": null}}
        },
        {
          "mark": {"type": "line", "stroke": "#000000", "strokeWidth": 1},
          "encoding": {
            "y": {
              "field": "r", "type": "quantitative",
              "scale": {"domain": [-8.5, 110], "nice": false, "zero": false},
              "axis": {"orient": "right", "values": [10, 30, 50, 70, 90], "tickSize": 3, "labelPadding": 3, "title": null}
            }
          }
        },
        {
          "data": {"values": [{"k": "RSI(14) 59.06"}]},
          "mark": {"type": "point", "opacity": 0, "filled": true},
          "encoding": {
            "color": {
              "field": "k", "type": "nominal",
              "scale": {"domain": ["RSI(14) 59.06"], "range": ["#4f7f4f"]},
              "legend": {
                "orient": "top-left", "title": null, "offset": 2, "padding": 0, "symbolSize": 60, "labelOffset": 3,
                "symbolType": "M-1,1L-0.6,-0.2L-0.2,0.3L0.3,-1L1,1Z",
                "encode": {
                  "symbols": {"update": {"opacity": {"value": 1}}},
                  "labels": {"update": {"fill": {"value": "#000000"}}}
                }
              }
            }
          }
        }
      ]
    }
  ]
}
